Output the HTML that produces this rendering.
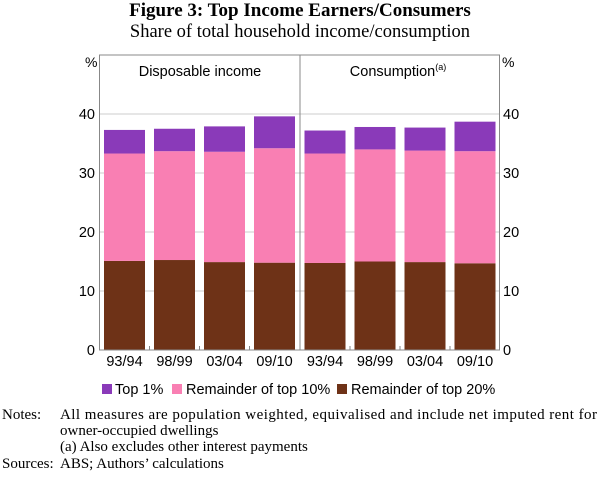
<!DOCTYPE html>
<html><head><meta charset="utf-8"><style>
body{margin:0;background:#fff;width:600px;height:473px;overflow:hidden}
svg text{font-family:"Liberation Sans",sans-serif}
.serif{font-family:"Liberation Serif",serif}
</style></head><body>
<svg id="chart" width="600" height="473">
<text class="serif" x="300" y="16" text-anchor="middle" font-size="19" font-weight="bold">Figure 3: Top Income Earners/Consumers</text>
<text class="serif" x="300" y="37" text-anchor="middle" font-size="18.5">Share of total household income/consumption</text>
<g id="grid"></g>
<g id="bars"></g>
<rect x="99.5" y="55" width="400" height="295" fill="none" stroke="#888" stroke-width="1"/>
<line x1="300" y1="55" x2="300" y2="350" stroke="#888"/>
<text x="200" y="76" text-anchor="middle" font-size="14.5">Disposable income</text>
<text x="398" y="76" text-anchor="middle" font-size="14.5">Consumption<tspan font-size="9" dy="-6">(a)</tspan></text>
<text x="85" y="67" font-size="14">%</text>
<text x="502" y="67" font-size="14">%</text>
<g id="ticks"></g>
<g>
<rect x="102" y="384" width="10" height="10" fill="#8a3ab9"/>
<text x="115" y="394" font-size="14.5">Top 1%</text>
<rect x="172" y="384" width="10" height="10" fill="#f97fb3"/>
<text x="186" y="394" font-size="14.5">Remainder of top 10%</text>
<rect x="337" y="384" width="10" height="10" fill="#6e3217"/>
<text x="351" y="394" font-size="14.5">Remainder of top 20%</text>
</g>
<g class="serif" font-size="15">
<text class="serif" x="2" y="419">Notes:</text>
<text class="serif" x="60" y="419" textLength="537" lengthAdjust="spacing">All measures are population weighted, equivalised and include net imputed rent for</text>
<text class="serif" x="60" y="435">owner-occupied dwellings</text>
<text class="serif" x="60" y="451">(a) Also excludes other interest payments</text>
<text class="serif" x="2" y="468">Sources:</text>
<text class="serif" x="60" y="468">ABS; Authors’ calculations</text>
</g>
</svg>
<script>
const categories=["93/94","98/99","03/04","09/10"];
const incomeTop20=[15.1,15.25,14.9,14.8];
const incomeTop10=[18.2,18.45,18.7,19.4];
const incomeTop1=[4.0,3.8,4.3,5.4];
const consTop20=[14.75,15.0,14.9,14.7];
const consTop10=[18.55,19.0,18.9,19.0];
const consTop1=[3.9,3.8,3.9,5.0];
const yTicks=[0,10,20,30,40];
const NS="http://www.w3.org/2000/svg";
const y=v=>350-v*5.9;
function mk(tag,attrs,parent){const e=document.createElementNS(NS,tag);for(const k in attrs)e.setAttribute(k,attrs[k]);document.getElementById(parent).appendChild(e);return e;}
yTicks.forEach(t=>{
 if(t>0){const g=mk('line',{x1:99.5,x2:499.5,y1:y(t),y2:y(t),stroke:'#ccc'},'grid');
 
 }
 const l=mk('text',{x:95,y:y(t)+5,'text-anchor':'end','font-size':14.5},'ticks');l.textContent=t;
 
 
 const r=mk('text',{x:503,y:y(t)+5,'font-size':14.5},'ticks');r.textContent=t;
 
 
});
const panels=[[incomeTop20,incomeTop10,incomeTop1,99.5,'income'],[consTop20,consTop10,consTop1,300,'consumption']];
const colors=['#6e3217','#f97fb3','#8a3ab9'];
const names=['remainder-top20','remainder-top10','top1'];
panels.forEach(p=>{
 categories.forEach((c,i)=>{
  const cx=p[3]+25+i*50;let base=0;
  [p[0],p[1],p[2]].forEach((s,k)=>{
   const r=mk('rect',{x:cx-20.5,width:41,y:y(base+s[i]),height:s[i]*5.9,fill:colors[k]},'bars');
   
   
   base+=s[i];
  });
  const t=mk('text',{x:cx,y:366,'text-anchor':'middle','font-size':14.5},'ticks');t.textContent=c;
  
  
  if(i>0){const tk=mk('line',{x1:cx-25,x2:cx-25,y1:346,y2:350,stroke:'#888'},'ticks');
  
  }
 });
});
</script>
</body></html>
